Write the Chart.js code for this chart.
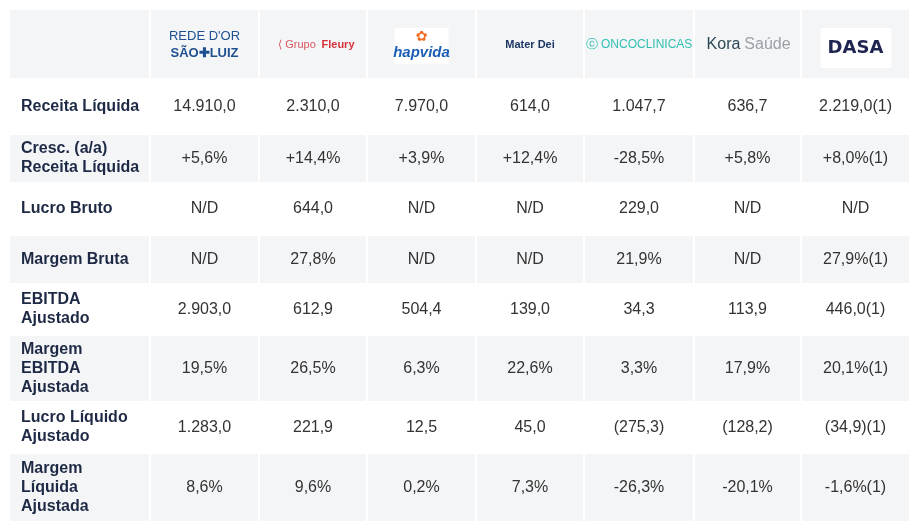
<!DOCTYPE html>
<html><head><meta charset="utf-8">
<script src="https://cdn.jsdelivr.net/npm/chart.js@4"></script>
<style>body{margin:0;background:#fff}#wrap{width:920px;height:530px}</style>
</head><body><div id="wrap"><canvas id="c"></canvas></div>
<script>
var companies = ["Rede D'Or São Luiz","Grupo Fleury","Hapvida","Mater Dei","Oncoclínicas","Kora Saúde","Dasa"];
var metrics = ["Receita Líquida","Cresc. (a/a)\nReceita Líquida","Lucro Bruto","Margem Bruta","EBITDA\nAjustado","Margem\nEBITDA\nAjustada","Lucro Líquido\nAjustado","Margem\nLíquida\nAjustada"];
var receita = ["14.910,0","2.310,0","7.970,0","614,0","1.047,7","636,7","2.219,0(1)"];
var cresc = ["+5,6%","+14,4%","+3,9%","+12,4%","-28,5%","+5,8%","+8,0%(1)"];
var lucroBruto = ["N/D","644,0","N/D","N/D","229,0","N/D","N/D"];
var margemBruta = ["N/D","27,8%","N/D","N/D","21,9%","N/D","27,9%(1)"];
var ebitda = ["2.903,0","612,9","504,4","139,0","34,3","113,9","446,0(1)"];
var margemEbitda = ["19,5%","26,5%","6,3%","22,6%","3,3%","17,9%","20,1%(1)"];
var lucroLiq = ["1.283,0","221,9","12,5","45,0","(275,3)","(128,2)","(34,9)(1)"];
var margemLiq = ["8,6%","9,6%","0,2%","7,3%","-26,3%","-20,1%","-1,6%(1)"];
var rows = [receita,cresc,lucroBruto,margemBruta,ebitda,margemEbitda,lucroLiq,margemLiq];

// layout (pixel-space scales)
var colEdges = [10,150,259,367,476,584,694,801,910];
var rowEdges = [10,80,134,183,235,284,335,402,453,522];
var gray = '#f4f5f7';

function drawLogo(ctx, i, cx, cy){
  ctx.save(); ctx.textAlign='center'; ctx.textBaseline='middle';
  if(i==0){
    ctx.fillStyle='#1d4f91'; ctx.font='13px "Liberation Sans"';
    ctx.fillText("REDE D'OR", cx, cy-9);
    ctx.font='bold 13px "Liberation Sans"'; ctx.fillText("SÃO✚LUIZ", cx, cy+8);
  } else if(i==1){
    ctx.font='11px "Liberation Sans"'; ctx.fillStyle='#d9565d';
    ctx.fillText("⟨ Grupo", cx-16, cy); ctx.font='bold 11px "Liberation Sans"';
    ctx.fillStyle='#d7323c'; ctx.fillText("Fleury", cx+25, cy);
  } else if(i==2){
    ctx.fillStyle='#fff'; ctx.fillRect(cx-27, cy-17, 54, 36);
    ctx.fillStyle='#f26a21'; ctx.font='14px "DejaVu Sans"'; ctx.fillText("✿", cx, cy-8);
    ctx.fillStyle='#1b5fb5'; ctx.font='bold italic 15px "Liberation Sans"'; ctx.fillText("hapvida", cx, cy+8);
  } else if(i==3){
    ctx.fillStyle='#1c3664'; ctx.font='bold 11px "Liberation Sans"'; ctx.fillText("Mater Dei", cx, cy);
  } else if(i==4){
    ctx.fillStyle='#2fbfb0'; ctx.font='12px "Liberation Sans"'; ctx.fillText("ⓒ ONCOCLINICAS", cx, cy);
  } else if(i==5){
    ctx.font='16px "Liberation Sans"'; ctx.fillStyle='#2d4756'; ctx.fillText("Kora", cx-24, cy);
    ctx.fillStyle='#9aa0a6'; ctx.fillText("Saúde", cx+20, cy);
  } else {
    ctx.fillStyle='#fff'; ctx.fillRect(cx-35, cy-17, 71, 40);
    ctx.fillStyle='#1f2550'; ctx.font='bold 18px "DejaVu Sans"'; ctx.fillText("DASA", cx, cy+3);
  }
  ctx.restore();
}

var tablePlugin = {
  id:'table',
  beforeDatasetsDraw: function(chart){
    var ctx = chart.ctx, x = chart.scales.x, y = chart.scales.y;
    var X = function(v){return x.getPixelForValue(v);}, Y = function(v){return y.getPixelForValue(v);};
    // backgrounds
    ctx.fillStyle = gray;
    for(var r=0;r<=metrics.length;r++){
      if(r%2==1) continue;
      for(var c=0;c<colEdges.length-1;c++){
        ctx.fillRect(X(colEdges[c])+(c?1:0), Y(rowEdges[r])+(r?1:0), X(colEdges[c+1])-X(colEdges[c])-(c?2:1), Y(rowEdges[r+1])-Y(rowEdges[r])-2);
      }
    }
    // header logos
    for(var i=0;i<companies.length;i++){
      drawLogo(ctx, i, (X(colEdges[i+1])+X(colEdges[i+2]))/2, (Y(rowEdges[0])+Y(rowEdges[1]))/2);
    }
    ctx.textBaseline='middle';
    for(var r=0;r<metrics.length;r++){
      var cy = (Y(rowEdges[r+1])+Y(rowEdges[r+2]))/2;
      var lines = metrics[r].split('\n');
      ctx.font='bold 16px "Liberation Sans"'; ctx.fillStyle='#1e2a45'; ctx.textAlign='left';
      lines.forEach(function(l,k){ ctx.fillText(l, X(colEdges[0])+11, cy+(k-(lines.length-1)/2)*19); });
      ctx.font='16px "Liberation Sans"'; ctx.fillStyle='#333'; ctx.textAlign='center';
      for(var c=0;c<companies.length;c++){
        ctx.fillText(rows[r][c], (X(colEdges[c+1])+X(colEdges[c+2]))/2, cy);
      }
    }
  }
};

new Chart(document.getElementById('c'), {
  type:'scatter',
  data:{datasets:[{data:[]}]},
  options:{
    responsive:true, maintainAspectRatio:false, animation:false,
    layout:{padding:0},
    plugins:{legend:{display:false}, tooltip:{enabled:false}},
    scales:{
      x:{type:'linear', min:0, max:920, display:false},
      y:{type:'linear', min:0, max:530, reverse:true, display:false}
    }
  },
  plugins:[tablePlugin]
});
</script></body></html>
